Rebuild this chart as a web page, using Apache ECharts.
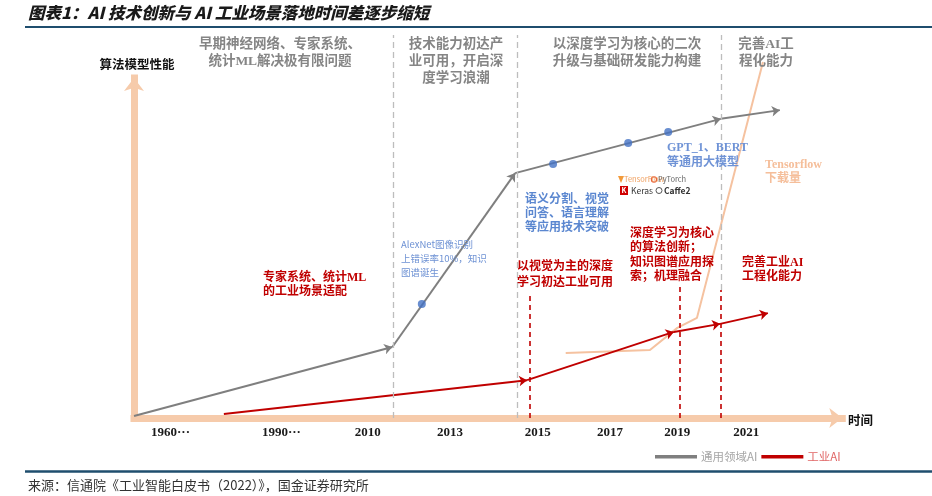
<!DOCTYPE html>
<html><head><meta charset="utf-8">
<script src="https://cdn.jsdelivr.net/npm/echarts@6/dist/echarts.min.js"></script>
<style>html,body{margin:0;padding:0;background:#fff}#c{width:932px;height:496px}</style>
</head><body><div id="c"></div>
<script>
// ---- data (axis units: x = timeline position 0..101, y = performance 0..115) ----
const yearLabels = ['1960···', '1990···', '2010', '2013', '2015', '2017', '2019', '2021'];
const yearPositions = [5.2, 21.0, 33.3, 45.0, 57.5, 67.8, 77.4, 87.2];
const generalAI = [[0, 0.6], [36.8, 21.2], [54.3, 73.1], [83.6, 89.3], [92.0, 91.9]];
const generalMilestones = [[41.0, 34.0], [59.7, 75.8], [70.4, 82.1], [76.1, 85.4]];
const industrialAI = [[12.8, 1.2], [56.0, 11.3], [76.9, 25.7], [83.5, 28.1], [90.3, 31.3]];
const tensorflowDownloads = [[61.5, 19.4], [73.5, 20.3], [77.4, 26.9], [80.2, 29.9], [89.6, 106.3]];
const phaseBoundaries = [[36.9, 0], [54.6, 0], [83.6, 38.2]];      // [x, bottom]
const phaseTop = 114.3;
const industrialMarks = [[56.4, 36.7], [77.8, 40.3], [83.6, 38.2]]; // [x, top]
const axisExtent = { x: 100.9, y: 101.5 };

const SANS = "'Noto Sans CJK SC', sans-serif";
const MIX = "'Liberation Serif', 'Noto Sans CJK SC', serif";

function segs(pts) { return pts.slice(1).map((p, i) => ({ coords: [pts[i], p] })); }
function T(x, y, text, font, fill, align, lh, extra) {
  return Object.assign({ type: 'text', x: x, y: y, silent: true, z: 10,
    style: { text: text, font: font, fill: fill, textAlign: align || 'left', textVerticalAlign: 'top', lineHeight: lh || 16 } }, extra || {});
}

const chart = echarts.init(document.getElementById('c'), null, { renderer: 'canvas' });
const option = {
  animation: false,
  backgroundColor: '#fff',
  grid: { left: 134, right: 89, top: 32.75, bottom: 78 },
  xAxis: {
    type: 'value', min: 0, max: 101,
    axisLine: { show: false }, axisTick: { show: false }, splitLine: { show: false },
    axisLabel: {
      customValues: yearPositions,
      formatter: function (v) { const i = yearPositions.indexOf(v); return i >= 0 ? yearLabels[i] : ''; },
      margin: 8, color: '#1a1a1a', fontWeight: 'bold', fontSize: 13, fontFamily: 'Liberation Serif'
    }
  },
  yAxis: { type: 'value', min: 0, max: 115, show: false },
  legend: {
    left: 650, top: 446, itemGap: 4, itemWidth: 40, itemHeight: 1.6,
    textStyle: { fontSize: 11.5, fontFamily: SANS },
    data: [
      { name: '通用领域AI', icon: 'rect', itemStyle: { color: '#8C8C8C' }, textStyle: { color: '#A6A6A6' } },
      { name: '工业AI', icon: 'rect', itemStyle: { color: '#C00000' }, textStyle: { color: '#E06666' } }
    ]
  },
  series: [
    { // orange axes
      type: 'line', data: [[0, 0]], symbol: 'none', lineStyle: { width: 0 }, z: 1, silent: true,
      markLine: {
        silent: true, z: 1, symbol: ['none', 'arrow'], symbolSize: [15, 13], label: { show: false },
        lineStyle: { color: '#F6CBAB', width: 7, type: 'solid', cap: 'square' },
        data: [
          [{ coord: [0, 0] }, { coord: [0, axisExtent.y] }],
          [{ coord: [0, 0] }, { coord: [axisExtent.x, 0] }]
        ]
      }
    },
    { // gray dashed phase boundaries
      type: 'line', data: [[0, 0]], symbol: 'none', lineStyle: { width: 0 }, z: 1, silent: true,
      markLine: {
        silent: true, symbol: ['none', 'none'], label: { show: false },
        lineStyle: { color: '#BDBDBD', width: 1.3, type: [6, 4] },
        data: phaseBoundaries.map(p => [{ coord: [p[0], p[1]] }, { coord: [p[0], phaseTop] }])
      }
    },
    { // red dashed industrial milestones
      type: 'line', data: [[0, 0]], symbol: 'none', lineStyle: { width: 0 }, z: 1, silent: true,
      markLine: {
        silent: true, symbol: ['none', 'none'], label: { show: false },
        lineStyle: { color: '#C00000', width: 1.6, type: [5, 4] },
        data: industrialMarks.map(p => [{ coord: [p[0], 0] }, { coord: [p[0], p[1]] }])
      }
    },
    {
      name: 'Tensorflow下载量', type: 'line', data: tensorflowDownloads, symbol: 'none', z: 3,
      lineStyle: { color: '#F5C2A0', width: 2 }, silent: true, clip: false
    },
    {
      name: '通用领域AI', type: 'lines', coordinateSystem: 'cartesian2d', polyline: false, z: 4,
      symbol: ['none', 'arrow'], symbolSize: 8, silent: true,
      lineStyle: { color: '#7F7F7F', width: 2, opacity: 1 }, itemStyle: { color: '#7F7F7F' },
      data: segs(generalAI)
    },
    {
      name: '工业AI', type: 'lines', coordinateSystem: 'cartesian2d', polyline: false, z: 4,
      symbol: ['none', 'arrow'], symbolSize: 8, silent: true,
      lineStyle: { color: '#C00000', width: 2, opacity: 1 }, itemStyle: { color: '#C00000' },
      data: segs(industrialAI)
    },
    {
      name: 'milestones', type: 'scatter', data: generalMilestones, symbolSize: 8, z: 5, silent: true,
      itemStyle: { color: '#4472C4' }
    }
  ],
  graphic: [
    // title and rules
    T(28, 3, '图表1：AI 技术创新与 AI 工业场景落地时间差逐步缩短', 'italic 900 16.5px ' + SANS, '#1a1a1a', 'left', 20),
    { type: 'line', silent: true, shape: { x1: 25, y1: 27, x2: 932, y2: 27 }, style: { stroke: '#1F4E6E', lineWidth: 2 } },
    { type: 'line', silent: true, shape: { x1: 25, y1: 471.5, x2: 932, y2: 471.5 }, style: { stroke: '#1F4E6E', lineWidth: 2.5 } },
    T(28, 476, '来源：信通院《工业智能白皮书（2022）》，国金证券研究所', '13px ' + SANS, '#333', 'left', 18),
    // axis names
    T(137, 56, '算法模型性能', 'bold 12.5px ' + SANS, '#111', 'center', 16),
    T(848, 412, '时间', 'bold 12.5px ' + SANS, '#111', 'left', 16),
    // phase headers
    T(280, 36.5, '早期神经网络、专家系统、\n统计ML解决极有限问题', 'bold 13.5px ' + MIX, '#858585', 'center', 17),
    T(456, 36.5, '技术能力初达产\n业可用，开启深\n度学习浪潮', 'bold 13.5px ' + MIX, '#858585', 'center', 17),
    T(627, 36.5, '以深度学习为核心的二次\n升级与基础研发能力构建', 'bold 13.5px ' + MIX, '#858585', 'center', 17),
    T(766, 36.5, '完善AI工\n程化能力', 'bold 13.5px ' + MIX, '#858585', 'center', 17),
    // red annotations
    T(263, 270.5, '专家系统、统计ML\n的工业场景适配', 'bold 12px ' + MIX, '#C00000', 'left', 14.5),
    T(517, 259.5, '以视觉为主的深度\n学习初达工业可用', 'bold 12px ' + MIX, '#C00000', 'left', 15.5),
    T(630, 226.5, '深度学习为核心\n的算法创新；\n知识图谱应用探\n索；机理融合', 'bold 12px ' + MIX, '#C00000', 'left', 14.5),
    T(742, 255.5, '完善工业AI\n工程化能力', 'bold 12px ' + MIX, '#C00000', 'left', 14.5),
    // blue annotations
    T(525, 191, '语义分割、视觉\n问答、语言理解\n等应用技术突破', 'bold 12px ' + SANS, '#5B87D0', 'left', 14),
    T(401, 237, 'AlexNet图像识别\n上错误率10%，知识\n图谱诞生', '9.5px ' + SANS, '#6E92D4', 'left', 14),
    T(667, 140, 'GPT_1、BERT\n等通用大模型', 'bold 12px ' + MIX, '#6F93D6', 'left', 15),
    // orange annotation
    T(765, 157.5, 'Tensorflow\n下载量', 'bold 12px ' + MIX, '#F5BE9A', 'left', 14.5),
    // framework logos
    { type: 'polygon', silent: true, shape: { points: [[618, 176], [624, 176], [621, 183]] }, style: { fill: '#F29A3A' } },
    T(624, 175, 'TensorFlow', '7.5px ' + SANS, '#F0A060', 'left', 9),
    { type: 'circle', silent: true, shape: { cx: 654, cy: 179.5, r: 2.6 }, style: { fill: 'none', stroke: '#E8643C', lineWidth: 1.2 } },
    T(658, 175, 'PyTorch', '7.5px ' + SANS, '#666', 'left', 9),
    { type: 'rect', silent: true, shape: { x: 620, y: 186, width: 8, height: 9 }, style: { fill: '#D00000' } },
    T(624, 186.5, 'K', 'bold 7px ' + SANS, '#fff', 'center', 8),
    T(631, 185.5, 'Keras', '8.5px ' + SANS, '#333', 'left', 10),
    { type: 'circle', silent: true, shape: { cx: 659, cy: 190.5, r: 3 }, style: { fill: 'none', stroke: '#555', lineWidth: 1 } },
    T(664, 185.5, 'Caffe2', 'bold 8.5px ' + SANS, '#333', 'left', 10)
  ]
};
chart.setOption(option);
</script>
</body></html>
